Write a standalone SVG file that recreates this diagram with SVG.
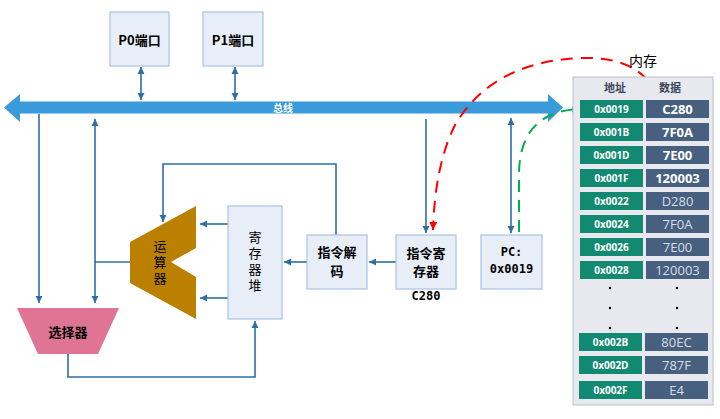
<svg xmlns="http://www.w3.org/2000/svg" width="720" height="419" viewBox="0 0 720 419">
<style>
.box{fill:#E8EEF8;stroke:#A9C4E4;stroke-width:1.2}
.ln{fill:none;stroke:#2E6FA5;stroke-width:1.6}
.lbl{font-family:"Noto Sans CJK SC","Liberation Sans",sans-serif;font-size:13px;fill:#000;text-anchor:middle;dominant-baseline:central}
.vt{font-family:"Noto Sans CJK SC",sans-serif;font-size:13px;fill:#000;text-anchor:middle;writing-mode:vertical-rl;letter-spacing:3px}
.b{font-weight:bold}
.mono{font-family:"DejaVu Sans Mono","Noto Sans CJK SC",monospace;font-weight:bold;font-size:12px;fill:#000;text-anchor:middle;dominant-baseline:central}
.addr{fill:#128A72}
.dat{fill:#48607F}
.at{font-family:"Open Sans","Liberation Sans",sans-serif;font-weight:bold;font-size:10px;fill:#fff;text-anchor:middle;dominant-baseline:central}
.dt{font-family:"Open Sans","Liberation Sans",sans-serif;font-size:13px;fill:#D6DEE8;text-anchor:middle;dominant-baseline:central}
.dtb{font-weight:bold;fill:#fff}
.hd{font-family:"Noto Sans CJK SC",sans-serif;font-weight:bold;font-size:11px;fill:#404858;text-anchor:middle;dominant-baseline:central}
</style>
<defs>
<marker id="ar" viewBox="0 0 10 10" refX="10" refY="5" markerWidth="7" markerHeight="8" markerUnits="userSpaceOnUse" orient="auto-start-reverse"><path d="M0,0 L10,5 L0,10 z" fill="#2E6FA5"/></marker>
<marker id="ared" viewBox="0 0 10 10" refX="10" refY="5" markerWidth="8" markerHeight="8" markerUnits="userSpaceOnUse" orient="auto"><path d="M0,0 L10,5 L0,10 z" fill="#FF0000"/></marker>
<marker id="agr" viewBox="0 0 10 10" refX="10" refY="5" markerWidth="7" markerHeight="7" markerUnits="userSpaceOnUse" orient="auto"><path d="M0,0 L10,5 L0,10 z" fill="#00B050"/></marker>
</defs>

<g id="bus">
<path d="M4,107.5 L20,94 L20,101.5 L548,101.5 L548,94 L563,107.5 L548,122 L548,113.5 L20,113.5 L20,122 z" fill="#3A9ADA"/>
<text x="283" y="107.5" font-family="Noto Sans CJK SC,sans-serif" font-size="10" font-weight="bold" fill="#fff" text-anchor="middle" dominant-baseline="central">总线</text>
</g>

<g id="connectors">
<path class="ln" d="M141,67 L141,100" marker-start="url(#ar)" marker-end="url(#ar)"/>
<path class="ln" d="M235,67 L235,100" marker-start="url(#ar)" marker-end="url(#ar)"/>
<path class="ln" d="M39,114 L39,303" marker-end="url(#ar)"/>
<path class="ln" d="M95,119 L95,303" marker-start="url(#ar)" marker-end="url(#ar)"/>
<path class="ln" d="M95,262 L131,262"/>
<path class="ln" d="M68,354 L68,377 L255,377 L255,321" marker-end="url(#ar)"/>
<path class="ln" d="M228,224 L200,224" marker-end="url(#ar)"/>
<path class="ln" d="M228,298 L200,298" marker-end="url(#ar)"/>
<path class="ln" d="M307,262 L284,262" marker-end="url(#ar)"/>
<path class="ln" d="M396,262 L369,262" marker-end="url(#ar)"/>
<path class="ln" d="M336,235 L336,164 L163,164 L163,222" marker-end="url(#ar)"/>
<path class="ln" d="M426,119 L426,233" marker-end="url(#ar)"/>
<path class="ln" d="M511,118 L511,233" marker-start="url(#ar)" marker-end="url(#ar)"/>
<path d="M657,97 Q642,56 580,58 Q492,62 455,125 Q435,165 433,230" fill="none" stroke="#FF0000" stroke-width="2" stroke-dasharray="12,8" marker-end="url(#ared)"/>
<path d="M519,232 L519,175 Q519,112 579,109" fill="none" stroke="#00B050" stroke-width="2" stroke-dasharray="12,8" marker-end="url(#agr)"/>
</g>

<g id="p0"><rect class="box" x="110" y="12" width="59" height="54"/><text class="lbl b" x="139.5" y="39">P0端口</text></g>
<g id="p1"><rect class="box" x="203" y="12" width="60" height="54"/><text class="lbl b" x="233" y="39">P1端口</text></g>

<g id="alu">
<polygon points="196,206 130,242 130,283 196,319 196,277 171,262 196,248" fill="#BC8000"/>
<text class="vt" x="160" y="263.5">运算器</text>
</g>

<g id="selector">
<polygon points="17,308 119,308 98,354 38,354" fill="#E07494"/>
<text class="lbl b" x="68" y="331">选择器</text>
</g>

<g id="regfile">
<rect class="box" x="228" y="206" width="54" height="113"/>
<text class="vt" x="255" y="262.5">寄存器堆</text>
</g>

<g id="decoder">
<rect class="box" x="307" y="235" width="60" height="54"/>
<text class="lbl b" x="337" y="251.5">指令解<tspan x="337" dy="18">码</tspan></text>
</g>

<g id="ir">
<rect class="box" x="396" y="235" width="60" height="54"/>
<text class="lbl b" x="426" y="252">指令寄<tspan x="426" dy="18">存器</tspan></text>
<text class="mono" x="426" y="296">C280</text>
</g>

<g id="pc">
<rect class="box" x="481" y="235" width="61" height="54"/>
<text class="mono" x="511.5" y="252">PC:<tspan x="511.5" dy="17">0x0019</tspan></text>
</g>

<g id="memory">
<text x="643" y="60" font-family="Noto Sans CJK SC,sans-serif" font-size="14" fill="#000" text-anchor="middle" dominant-baseline="central">内存</text>
<rect x="573" y="77" width="140" height="328" fill="#E8E9EF" stroke="#C2C8D4" stroke-width="1.2"/>
<text class="hd" x="615" y="87">地址</text>
<text class="hd" x="670" y="87">数据</text>
<rect class="addr" x="580" y="100" width="63" height="18"/><rect class="dat" x="646" y="100" width="63" height="18"/>
<text class="at" x="611.5" y="109">0x0019</text><text class="dt dtb" x="677.5" y="109">C280</text>
<rect class="addr" x="580" y="123" width="63" height="18"/><rect class="dat" x="646" y="123" width="63" height="18"/>
<text class="at" x="611.5" y="132">0x001B</text><text class="dt dtb" x="677.5" y="132">7F0A</text>
<rect class="addr" x="580" y="146" width="63" height="18"/><rect class="dat" x="646" y="146" width="63" height="18"/>
<text class="at" x="611.5" y="155">0x001D</text><text class="dt dtb" x="677.5" y="155">7E00</text>
<rect class="addr" x="580" y="169" width="63" height="18"/><rect class="dat" x="646" y="169" width="63" height="18"/>
<text class="at" x="611.5" y="178">0x001F</text><text class="dt dtb" x="677.5" y="178">120003</text>
<rect class="addr" x="580" y="192" width="63" height="18"/><rect class="dat" x="646" y="192" width="63" height="18"/>
<text class="at" x="611.5" y="201">0x0022</text><text class="dt" x="677.5" y="201">D280</text>
<rect class="addr" x="580" y="215" width="63" height="18"/><rect class="dat" x="646" y="215" width="63" height="18"/>
<text class="at" x="611.5" y="224">0x0024</text><text class="dt" x="677.5" y="224">7F0A</text>
<rect class="addr" x="580" y="238" width="63" height="18"/><rect class="dat" x="646" y="238" width="63" height="18"/>
<text class="at" x="611.5" y="247">0x0026</text><text class="dt" x="677.5" y="247">7E00</text>
<rect class="addr" x="580" y="261" width="63" height="18"/><rect class="dat" x="646" y="261" width="63" height="18"/>
<text class="at" x="611.5" y="270">0x0028</text><text class="dt" x="677.5" y="270">120003</text>
<g fill="#000">
<circle cx="610" cy="288" r="1.2"/><circle cx="677" cy="288" r="1.2"/>
<circle cx="610" cy="308" r="1.2"/><circle cx="677" cy="308" r="1.2"/>
<circle cx="610" cy="328" r="1.2"/><circle cx="677" cy="328" r="1.2"/>
</g>
<rect class="addr" x="579" y="333" width="63" height="18"/><rect class="dat" x="645" y="333" width="63" height="18"/>
<text class="at" x="610.5" y="342">0x002B</text><text class="dt" x="676.5" y="342">80EC</text>
<rect class="addr" x="579" y="356" width="63" height="18"/><rect class="dat" x="645" y="356" width="63" height="18"/>
<text class="at" x="610.5" y="365">0x002D</text><text class="dt" x="676.5" y="365">787F</text>
<rect class="addr" x="579" y="381" width="63" height="18"/><rect class="dat" x="645" y="381" width="63" height="18"/>
<text class="at" x="610.5" y="390">0x002F</text><text class="dt" x="676.5" y="390">E4</text>
</g>
</svg>
